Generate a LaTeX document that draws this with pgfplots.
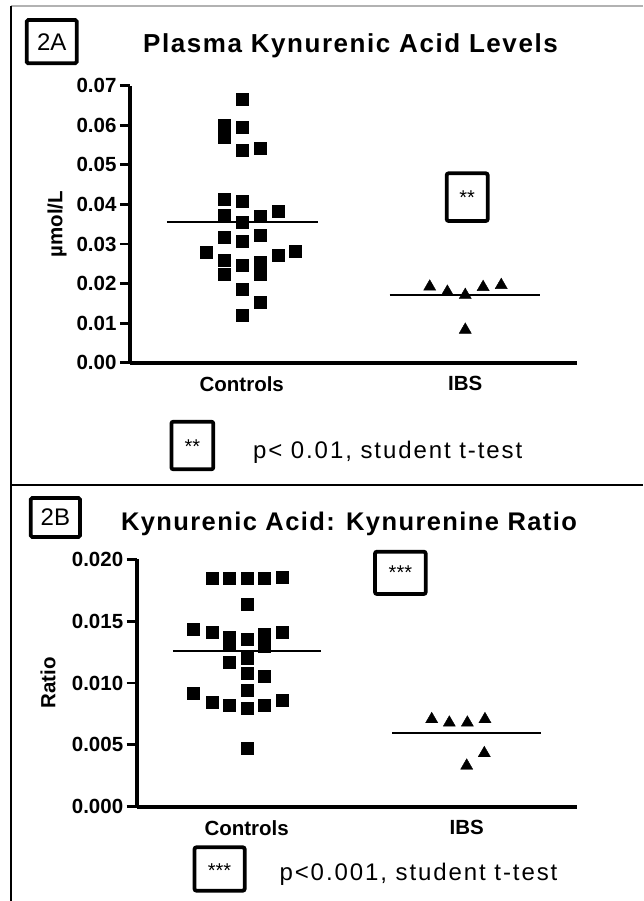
\documentclass[border=0pt]{standalone}
\usepackage{fontspec}
\setmainfont{Liberation Sans}
\usepackage{pgfplots}
\pgfplotsset{compat=1.18}
\newfontfamily\titlefontA{Liberation Sans}[LetterSpace=6]
\newfontfamily\titlefontB{Liberation Sans}[LetterSpace=5.5]
\newfontfamily\footfont{Liberation Sans}[LetterSpace=8]

\pgfplotsset{
  mystyle/.style={
    scale only axis,
    axis x line*=bottom, axis y line*=left,
    axis line style={line width=3.6pt},
    xmin=0.5, xmax=2.5, ymin=0,
    xtick={1,2}, xticklabels={Controls,IBS},
    major x tick style={draw=none},
    tick align=outside,
    major tick length=10pt,
    tick style={line width=2.8pt, black},
    tick label style={font=\fontsize{20.5}{24}\selectfont\bfseries},
    label style={font=\fontsize{20.5}{24}\selectfont\bfseries},
    scaled y ticks=false,
    /pgf/number format/assume math mode=true,
    /pgf/number format/fixed,
    /pgf/number format/fixed zerofill,
    clip=false,
  }
}

\begin{document}
\begin{tikzpicture}[x=1pt,y=-1pt]
\useasboundingbox (0,0) rectangle (643,901);
% frame
\draw[gray!60, line width=1.5pt] (11,6) -- (643,6);
\draw[black, line width=1.5pt] (11,6) -- (11,901);
\draw[black, line width=1.8pt] (11,485) -- (643,485);

% ---------- Panel A ----------
\begin{axis}[mystyle,
  at={(130pt,-362.7pt)}, anchor=south west,
  width=447pt, height=277pt,
  ymax=0.07,
  ytick={0,0.01,0.02,0.03,0.04,0.05,0.06,0.07},
  /pgf/number format/precision=2,
  ylabel={µmol/L},
  ylabel style={at={(axis description cs:-0.163,0.5)}, anchor=center},
]
\addplot[only marks, mark=square*, mark size=6pt, mark options={draw=none, fill=black}] coordinates {
(1.000,0.0666) (0.923,0.0601) (0.923,0.0571) (1.000,0.0596) (1.000,0.0536)
(1.082,0.0543) (0.923,0.0413) (1.000,0.0409) (0.923,0.0374) (1.000,0.0354)
(1.082,0.0369) (1.164,0.0382) (0.923,0.0317) (1.000,0.0306) (1.082,0.0321)
(0.841,0.0278) (0.923,0.0260) (1.000,0.0247) (1.082,0.0253) (1.082,0.0224)
(1.164,0.0272) (1.241,0.0281) (0.923,0.0223) (1.000,0.0185) (1.082,0.0154)
(1.000,0.0119)
};
\addplot[only marks, mark=triangle*, mark size=7pt, mark options={draw=none, fill=black}] coordinates {
(1.841,0.0192) (1.920,0.0179) (2.000,0.0171) (2.080,0.0191) (2.161,0.0196) (2.000,0.0083)
};
\addplot[black, line width=2.5pt, no marks] coordinates {(0.665,0.0355) (1.339,0.0355)};
\addplot[black, line width=2.5pt, no marks] coordinates {(1.662,0.0171) (2.336,0.0171)};
\end{axis}

% ---------- Panel B ----------
\begin{axis}[mystyle,
  at={(136.7pt,-806.7pt)}, anchor=south west,
  width=440pt, height=247.4pt,
  ymax=0.02,
  ytick={0,0.005,0.01,0.015,0.02},
  /pgf/number format/precision=3,
  ylabel={Ratio},
  ylabel style={at={(axis description cs:-0.2016,0.5)}, anchor=center},
]
\addplot[only marks, mark=square*, mark size=6pt, mark options={draw=none, fill=black}] coordinates {
(0.841,0.01846) (0.920,0.01846) (1.000,0.01846) (1.080,0.01846) (1.162,0.01855)
(1.000,0.01639)
(0.757,0.01437) (0.841,0.01407) (0.920,0.01374) (1.000,0.01358) (1.080,0.01396) (1.162,0.01407)
(0.920,0.01310) (1.080,0.01299)
(0.920,0.01172) (1.000,0.01200)
(1.000,0.01078) (1.080,0.01051)
(1.000,0.00943)
(0.757,0.00917) (0.841,0.00841) (0.920,0.00822) (1.000,0.00795) (1.080,0.00822) (1.162,0.00863)
(1.000,0.00472)
};
\addplot[only marks, mark=triangle*, mark size=7pt, mark options={draw=none, fill=black}] coordinates {
(1.841,0.00707) (1.921,0.00679) (2.003,0.00679) (2.083,0.00707) (2.000,0.00331) (2.080,0.00432)
};
\addplot[black, line width=2.5pt, no marks] coordinates {(0.664,0.01259) (1.338,0.01259)};
\addplot[black, line width=2.5pt, no marks] coordinates {(1.662,0.00596) (2.336,0.00596)};
\end{axis}

% ---------- annotations ----------
\draw[line width=3.8pt, rounded corners=1.5pt] (26.7,20) rectangle (76.7,63.3);
\node[font=\fontsize{24}{28}\selectfont] at (51.7,41.7) {2A};
\node[anchor=base, font={\fontsize{26}{30}\titlefontA\bfseries}] at (350.5,53) {Plasma Kynurenic Acid Levels};

\draw[line width=3.8pt, rounded corners=2pt] (446.7,173.3) rectangle (487.7,221);
\node[anchor=base, font=\fontsize{20}{24}\selectfont] at (467.2,204.4) {**};

\draw[line width=3.8pt, rounded corners=2pt] (171.4,421.7) rectangle (213.3,469.3);
\node[anchor=base, font=\fontsize{20}{24}\selectfont] at (192.4,453) {**};
\node[anchor=base west, font={\fontsize{24}{28}\footfont}] at (249.5,458) {p< 0.01, student t-test};

\draw[line width=3.8pt, rounded corners=1.5pt] (30.8,498) rectangle (80,537);
\node[font=\fontsize{24}{28}\selectfont] at (55.4,517.5) {2B};
\node[anchor=base, font={\fontsize{25.5}{30}\titlefontB\bfseries}] at (349,530) {Kynurenic Acid: Kynurenine Ratio};

\draw[line width=3.8pt, rounded corners=2pt] (375,551.7) rectangle (425.7,594);
\node[anchor=base, font=\fontsize{20}{24}\selectfont] at (400.4,579.7) {***};

\draw[line width=3.8pt, rounded corners=2pt] (194.5,847.3) rectangle (244.7,890.7);
\node[anchor=base, font=\fontsize{20}{24}\selectfont] at (219.6,877) {***};
\node[anchor=base west, font={\fontsize{24}{28}\footfont}] at (276,880) {p<0.001, student t-test};
\end{tikzpicture}
\end{document}
